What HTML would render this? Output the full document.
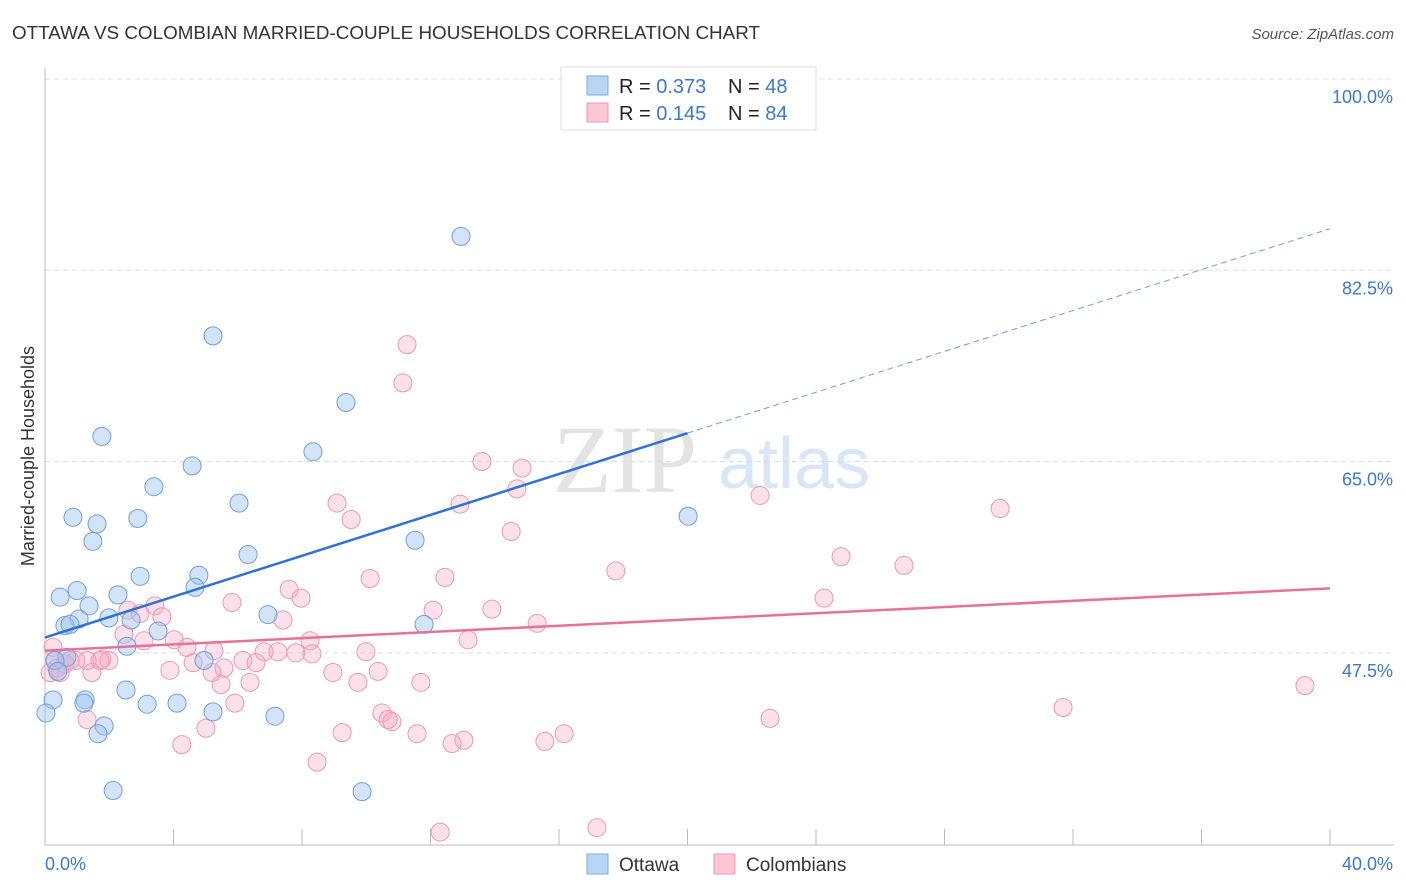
<!DOCTYPE html>
<html><head><meta charset="utf-8"><style>
body{margin:0;background:#fff;font-family:"Liberation Sans",sans-serif;}
svg{display:block}
</style></head><body>
<svg id="chart" width="1406" height="892" xmlns="http://www.w3.org/2000/svg">
<text x="12" y="39" font-size="18" fill="#333" textLength="748" lengthAdjust="spacingAndGlyphs">OTTAWA VS COLOMBIAN MARRIED-COUPLE HOUSEHOLDS CORRELATION CHART</text>
<text x="1394" y="39" font-size="15" fill="#555" text-anchor="end" font-style="italic">Source: ZipAtlas.com</text>
<g>
<text x="553" y="492" font-size="96" fill="#e3e3e3" font-family="Liberation Serif,serif">ZIP</text>
<text x="718" y="488" font-size="72" fill="#d9e6f5">atlas</text>
</g>
<g id="grid"></g>
<g id="axes"></g>
<g id="marks"></g>
<g>
<rect x="561" y="67" width="255" height="63" fill="#fff" stroke="#ddd"/>
<rect x="587" y="76" width="21" height="19" fill="#b8d4f6" stroke="#7fa9e0"/>
<rect x="587" y="103" width="21" height="19" fill="#fcc8d8" stroke="#eb97b3"/>
<text x="619" y="93" font-size="20" fill="#222">R = <tspan fill="#3a78d4">0.373</tspan></text>
<text x="728" y="93" font-size="20" fill="#222">N = <tspan fill="#3a78d4">48</tspan></text>
<text x="619" y="120" font-size="20" fill="#222">R = <tspan fill="#3a78d4"> 0.145</tspan></text>
<text x="728" y="120" font-size="20" fill="#222">N = <tspan fill="#3a78d4">84</tspan></text>
</g>
<g>
<rect x="587" y="854" width="21" height="20" fill="#b8d4f6" stroke="#7fa9e0"/>
<text x="619" y="871" font-size="19" fill="#333">Ottawa</text>
<rect x="714" y="854" width="21" height="20" fill="#fcc8d8" stroke="#eb97b3"/>
<text x="746" y="871" font-size="19" fill="#333">Colombians</text>
</g>
<text transform="translate(34,456) rotate(-90)" font-size="18" fill="#333" text-anchor="middle">Married-couple Households</text>
</svg>
<script>
const yTicks=[100,82.5,65,47.5];
const yTickLabels=["100.0%","82.5%","65.0%","47.5%"];
const xTickLabels=["0.0%","40.0%"];
const blueX=[12.95,5.23,9.37,1.77,8.34,4.58,3.39,6.04,0.87,1.62,2.89,20.02,1.49,11.52,6.32,2.96,4.79,1.00,4.67,0.47,2.27,1.37,6.94,1.06,1.99,2.68,0.62,0.78,11.80,3.52,2.55,0.68,4.95,0.31,0.40,0.25,1.25,1.21,2.52,3.18,4.11,0.03,5.23,7.16,1.84,1.65,2.12,9.87];
const blueY=[85.6,76.5,70.4,67.3,65.9,64.6,62.7,61.2,59.9,59.3,59.8,60.0,57.7,57.8,56.5,54.5,54.6,53.2,53.5,52.6,52.8,51.8,51.0,50.6,50.7,50.5,50.0,50.1,50.1,49.5,48.1,47.1,46.8,46.8,45.8,43.2,43.2,42.9,44.1,42.8,42.9,42.0,42.1,41.7,40.8,40.1,34.9,34.8];
const pinkX=[11.27,11.14,13.60,14.85,14.69,22.26,12.92,9.09,9.53,29.73,14.51,24.78,26.74,17.77,10.12,12.45,7.60,7.97,5.82,24.25,3.42,2.58,2.96,3.64,12.08,13.91,7.41,15.32,2.46,13.17,4.42,8.25,3.08,4.02,0.25,5.26,6.82,7.81,9.99,8.31,7.25,0.78,1.77,1.31,1.99,4.61,6.16,6.57,0.96,0.37,1.46,3.89,5.57,0.62,0.16,8.96,10.37,5.20,6.38,5.48,9.74,11.70,39.22,5.91,31.69,10.49,10.68,10.80,1.31,5.01,22.57,9.25,11.58,16.16,13.04,15.56,12.67,4.26,8.47,12.30,17.18,0.31,0.47,1.71];
const pinkY=[75.7,72.2,65.0,64.4,62.5,61.9,61.1,61.2,59.7,60.7,58.6,56.3,55.5,55.0,54.3,54.4,53.3,52.5,52.1,52.5,51.8,51.4,51.1,50.8,51.4,51.5,50.5,50.2,49.2,48.7,48.0,48.6,48.6,48.7,48.0,47.7,47.6,47.5,47.6,47.4,47.6,46.8,46.9,46.8,46.8,46.6,46.8,46.6,46.8,46.1,45.7,45.9,46.1,46.5,45.7,45.7,45.8,45.7,44.8,44.6,44.8,44.8,44.5,42.9,42.5,42.0,41.4,41.2,41.4,40.6,41.5,40.2,40.1,40.1,39.5,39.4,39.2,39.1,37.5,31.1,31.5,46.8,45.7,46.8];
const blueTrend=[48.9,67.6,86.3]; // values at x=0,20,40
const pinkTrend=[47.7,53.4]; // values at x=0,40
const NS="http://www.w3.org/2000/svg";
const X=v=>45+v*(1285/40);
const Y=v=>79+(100-v)*10.93;
function mk(tag,attrs,parent){const e=document.createElementNS(NS,tag);for(const k in attrs)e.setAttribute(k,attrs[k]);document.getElementById(parent).appendChild(e);return e;}
yTicks.forEach((t,i)=>{
 const g=mk('line',{x1:45,x2:1394,y1:Y(t),y2:Y(t),stroke:'#ddd','stroke-dasharray':'5,4'},'grid');
 
 
 const l=mk('text',{x:1393,y:Y(t)+24,'font-size':18,fill:'#3a78d4','text-anchor':'end'},'axes');
 l.textContent=yTickLabels[i];
 
 
});
let a=mk('line',{x1:45,x2:45,y1:68,y2:845,stroke:'#bbb'},'axes');


a=mk('line',{x1:45,x2:1394,y1:845,y2:845,stroke:'#bbb'},'axes');


for(let i=1;i<=10;i++){
 const t=mk('line',{x1:X(i*4),x2:X(i*4),y1:829,y2:845,stroke:'#bbb'},'axes');
 
 
}
[[0,'start',45],[40,'end',1393]].forEach((d,i)=>{
 const l=mk('text',{x:d[2],y:870,'font-size':18,fill:'#3a78d4','text-anchor':d[1]},'axes');
 l.textContent=xTickLabels[i];
 
 
});
pinkX.forEach((x,i)=>{
 const c=mk('circle',{cx:X(x),cy:Y(pinkY[i]),r:9,fill:'rgba(246,170,195,0.35)',stroke:'#eb98b4','stroke-width':1},'marks');
 
 
});
blueX.forEach((x,i)=>{
 const c=mk('circle',{cx:X(x),cy:Y(blueY[i]),r:9,fill:'rgba(160,196,240,0.45)',stroke:'#6f9fdb','stroke-width':1},'marks');
 
 
});
let t=mk('line',{x1:X(0),y1:Y(pinkTrend[0]),x2:X(40),y2:Y(pinkTrend[1]),stroke:'#e8709a','stroke-width':2.5},'marks');


t=mk('line',{x1:X(0),y1:Y(blueTrend[0]),x2:X(20),y2:Y(blueTrend[1]),stroke:'#2f72d6','stroke-width':2.5},'marks');


t=mk('line',{x1:X(20),y1:Y(blueTrend[1]),x2:X(40),y2:Y(blueTrend[2]),stroke:'#6f9fdb','stroke-width':1,'stroke-dasharray':'6,4'},'marks');


</script>
</body></html>
